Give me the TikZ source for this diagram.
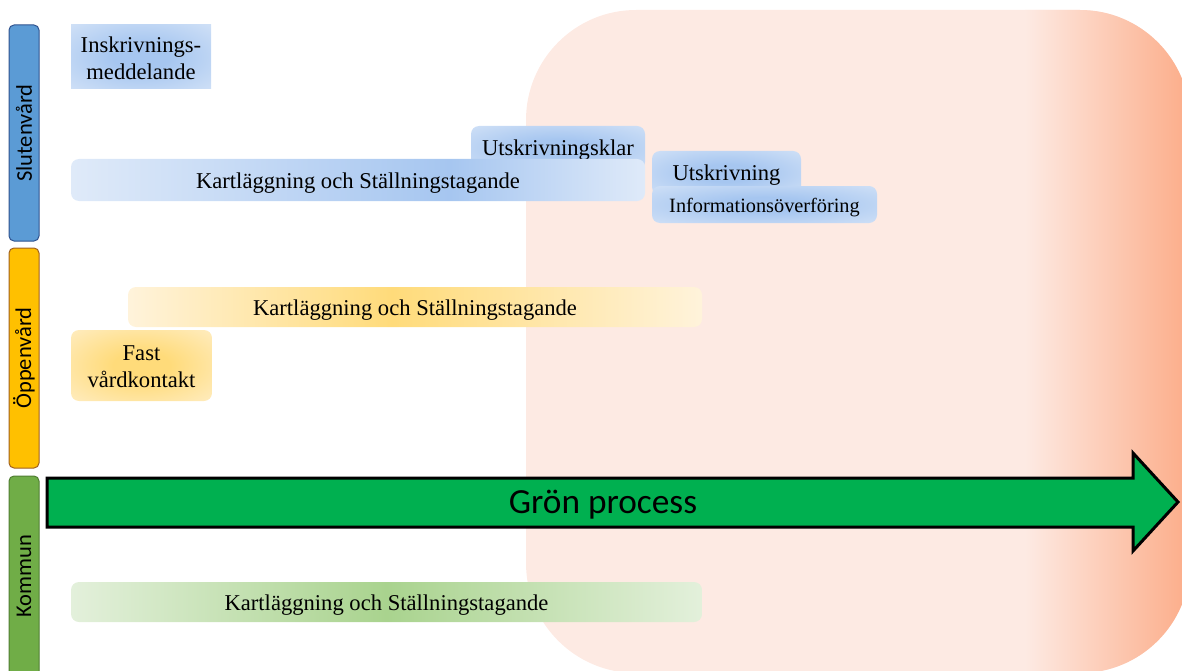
\documentclass[tikz,border=0pt]{standalone}
\usepackage{fontspec}
\setmainfont{Liberation Serif}
\newfontfamily\labelfont{Carlito}
\definecolor{pinkbg}{HTML}{FDEAE3}
\definecolor{salmon}{HTML}{FCAC88}
\definecolor{bluelane}{HTML}{5B9BD5}
\definecolor{bluelaneb}{HTML}{2F528F}
\definecolor{orlane}{HTML}{FFC000}
\definecolor{orlaneb}{HTML}{A0601E}
\definecolor{grlane}{HTML}{70AD47}
\definecolor{grlaneb}{HTML}{507E32}
\definecolor{arrowgreen}{HTML}{00B050}
\definecolor{bluelight}{HTML}{DFEAF9}
\definecolor{bluedark}{HTML}{A6C6F0}
\definecolor{orlight}{HTML}{FFF3DB}
\definecolor{ordark}{HTML}{FFDB7A}
\definecolor{grlight}{HTML}{E3F0DB}
\definecolor{grdark}{HTML}{A9D38E}
\pgfdeclarehorizontalshading{bluelinS}{100bp}{color(0bp)=(bluelight); color(25bp)=(bluelight); color(58bp)=(bluedark); color(75bp)=(bluelight); color(100bp)=(bluelight)}
\pgfdeclarehorizontalshading{orlinS}{100bp}{color(0bp)=(orlight); color(25bp)=(orlight); color(48bp)=(ordark); color(75bp)=(orlight); color(100bp)=(orlight)}
\pgfdeclarehorizontalshading{grlinS}{100bp}{color(0bp)=(grlight); color(25bp)=(grlight); color(50bp)=(grdark); color(75bp)=(grlight); color(100bp)=(grlight)}
\pgfdeclareradialshading{blueradS}{\pgfpoint{0bp}{0bp}}{color(0bp)=(bluedark); color(10bp)=(bluedark); color(46bp)=(bluelight); color(50bp)=(bluelight)}
\pgfdeclareradialshading{orradS}{\pgfpoint{0bp}{0bp}}{color(0bp)=(ordark); color(10bp)=(ordark); color(46bp)=(orlight); color(50bp)=(orlight)}
\begin{document}
\begin{tikzpicture}[x=1pt,y=-1pt,
  lane/.style={draw, line width=1pt, rounded corners=5pt},
  lanetext/.style={font=\labelfont\fontsize{22.5}{26}\selectfont, rotate=90, inner sep=0pt},
  box/.style={rounded corners=8pt, inner sep=0pt, shade},
  boxtext/.style={inner sep=0pt, align=center, font=\fontsize{22.6}{27}\selectfont},
  bluelin/.style={box, shading=bluelinS},
  bluerad/.style={box, shading=blueradS},
  orlin/.style={box, shading=orlinS},
  orrad/.style={box, shading=orradS},
  grlin/.style={box, shading=grlinS},
  bigarrow/.style={draw=black, line width=3pt, fill=arrowgreen, line join=miter}
]
\useasboundingbox (0,0) rectangle (1182,671);
% pink background zone
\fill[pinkbg, rounded corners=110pt] (526,10) rectangle (1190,673);
\begin{scope}
  \clip[rounded corners=110pt] (526,10) rectangle (1190,673);
  \shade[left color=pinkbg, right color=salmon] (1025,0) rectangle (1191,680);
\end{scope}
% lanes
\draw[lane, fill=bluelane, draw=bluelaneb] (9,25) rectangle (39,241);
\node[lanetext] (slutenvard) at (24,133) {Slutenvård};
\draw[lane, fill=orlane, draw=orlaneb] (9,248) rectangle (39,468);
\node[lanetext] (oppenvard) at (24,358) {Öppenvård};
\draw[lane, fill=grlane, draw=grlaneb] (9,476) rectangle (39,700);
\node[lanetext] (kommun) at (24,576) {Kommun};
% Slutenvård boxes
\node[bluerad, rounded corners=0pt, minimum width=140pt, minimum height=64pt] (inskr) at (141,57) {};
\node[boxtext, yshift=-1.5pt] (inskrT) at (inskr.center) {Inskrivnings-\\meddelande};
\node[bluerad, minimum width=174pt, minimum height=44pt] (utklar) at (558,148) {};
\node[boxtext, yshift=-2.5pt] (utklarT) at (utklar.center) {Utskrivningsklar};
\node[bluelin, minimum width=574pt, minimum height=42pt] (kartS) at (358,180) {};
\node[boxtext, yshift=-3pt] (kartST) at (kartS.center) {Kartläggning och Ställningstagande};
\node[bluerad, minimum width=149pt, minimum height=44pt] (utskr) at (726.5,173) {};
\node[boxtext, yshift=-2.5pt] (utskrT) at (utskr.center) {Utskrivning};
\node[bluerad, minimum width=225pt, minimum height=37pt] (info) at (764.5,204.5) {};
\node[boxtext, yshift=-3pt, font=\fontsize{20.3}{24}\selectfont] (infoT) at (info.center) {Informationsöverföring};
% Öppenvård boxes
\node[orlin, minimum width=574pt, minimum height=40pt] (kartO) at (415,307) {};
\node[boxtext, yshift=-3pt] (kartOT) at (kartO.center) {Kartläggning och Ställningstagande};
\node[orrad, minimum width=141pt, minimum height=71pt] (fast) at (141.5,365.5) {};
\node[boxtext, yshift=-1.5pt] (fastT) at (fast.center) {Fast\\vårdkontakt};
% Kommun box
\node[grlin, minimum width=631pt, minimum height=40pt] (kartK) at (386.5,602) {};
\node[boxtext, yshift=-3.5pt] (kartKT) at (kartK.center) {Kartläggning och Ställningstagande};
% big arrow
\draw[bigarrow] (47,478) -- (1133,478) -- (1133,453) -- (1178,502) -- (1133,551) -- (1133,527) -- (47,527) -- cycle;
\node[font=\labelfont\fontsize{35.3}{42}\selectfont, inner sep=0pt, yshift=-3pt] (gron) at (603,502) {Grön process};
\end{tikzpicture}
\end{document}
